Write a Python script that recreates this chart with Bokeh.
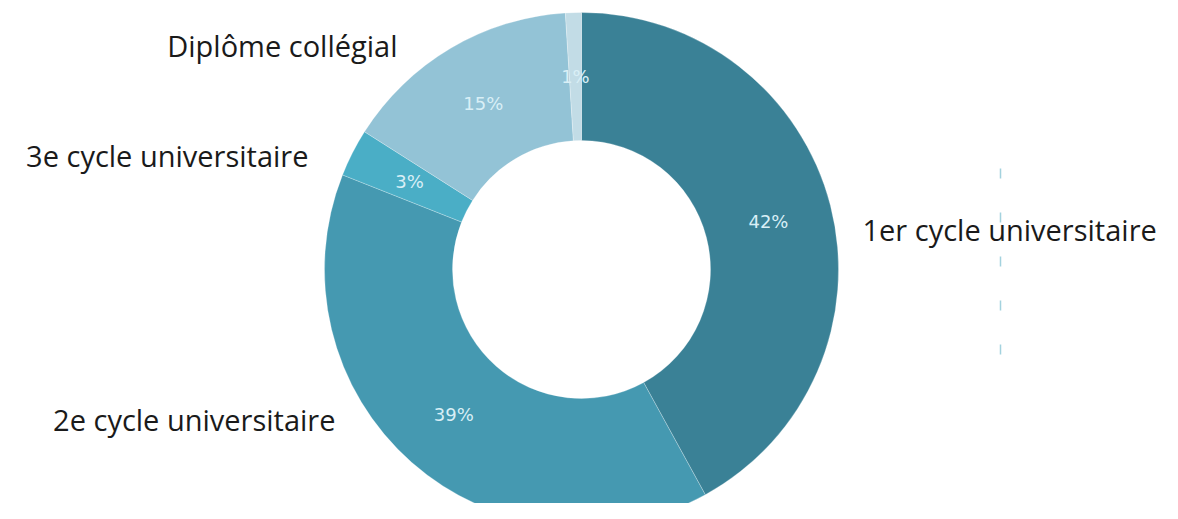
import math
from bokeh.plotting import figure
from bokeh.models import Range1d, ColumnDataSource
from bokeh.core.properties import value
from bokeh.embed import file_html
from bokeh.resources import INLINE

# data
categories = ["1er cycle universitaire", "2e cycle universitaire", "3e cycle universitaire",
              "Diplôme collégial", "Autre"]
shares = [42, 39, 3, 15, 1]
pct_labels = ["42%", "39%", "3%", "15%", "1%"]
colors = ["#3a8196", "#4599b1", "#4aaec6", "#93c3d6", "#c2dce6"]

# layout (page pixel space: data y = 519 - screen y)
W, H = 1162, 503
cx, cy = 581, 519 - 269
r_out, r_in = 257, 129
r_lab = (r_out + r_in) / 2

total = float(sum(shares))
starts, ends, lx, ly = [], [], [], []
acc = 0.0
for s in shares:
    a0 = math.pi / 2 - 2 * math.pi * acc / total
    acc += s
    a1 = math.pi / 2 - 2 * math.pi * acc / total
    starts.append(a0)
    ends.append(a1)
    mid = (a0 + a1) / 2
    lx.append(cx + r_lab * math.cos(mid))
    ly.append(cy + r_lab * math.sin(mid))

src = ColumnDataSource(dict(start=starts, end=ends, color=colors, lx=lx, ly=ly, pct=pct_labels))

p = figure(width=W, height=H, output_backend="svg", toolbar_location=None,
           x_range=Range1d(0, W), y_range=Range1d(519 - H, 519),
           min_border=0)
p.axis.visible = False
p.grid.visible = False
p.outline_line_color = None
p.background_fill_color = "white"

p.annular_wedge(x=cx, y=cy, inner_radius=r_in, outer_radius=r_out,
                start_angle="end", end_angle="start", color="color",
                line_color="white", line_alpha=0.25, line_width=1, source=src)

p.text(x="lx", y="ly", text="pct", source=src, text_align="center", text_baseline="middle",
       text_font=value("DejaVu Sans"), text_font_size="18px", text_color="#d9eff6")

# outer category labels
out_names = categories[:4]
out_x = [862, 335, 308, 397]
out_y = [519 - 229, 519 - 419, 519 - 155, 519 - 45]
out_align = ["left", "right", "right", "right"]
p.text(x=out_x, y=out_y, text=out_names, text_align=out_align, text_baseline="middle",
       text_font=value("Open Sans"), text_font_size="29px", text_color="#1a1a1a")

# faint dashed artifact line
p.segment(x0=[1000], y0=[519 - 168], x1=[1000], y1=[519 - 362],
          line_color="#8cc7d6", line_width=1.5, line_dash="10 34", line_alpha=0.8)

open("out.html", "w").write(file_html(p, INLINE))
